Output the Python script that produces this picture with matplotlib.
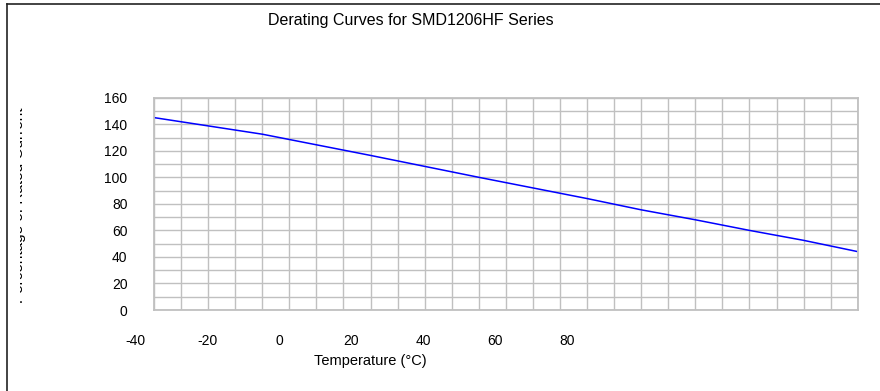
import matplotlib
matplotlib.use("Agg")
import matplotlib.pyplot as plt
from matplotlib.transforms import Bbox, TransformedBbox
from matplotlib.lines import Line2D

# ---- data ----
temperature = [-40, -20, 0, 20, 30, 40, 50, 60, 70, 80, 90]
percentage = [145, 132.5, 116.5, 100, 92, 84, 75.5, 68, 60, 52.5, 44]
x_tick_values = [-40, -20, 0, 20, 40, 60, 80]
y_tick_values = [0, 20, 40, 60, 80, 100, 120, 140, 160]
title = "Derating Curves for SMD1206HF Series"
xlabel = "Temperature (°C)"
ylabel = "Percentage of Rated Current"

plt.rcParams['font.family'] = ['Liberation Sans', 'DejaVu Sans']

W, H = 880, 391
fig = plt.figure(figsize=(W / 100, H / 100), dpi=100)
fig.patch.set_facecolor('white')

def fx(px):
    return px / W

def fy(py):
    return (H - py) / H

left, right, top, bottom = 154, 857.7, 97.7, 310
ax = fig.add_axes([fx(left), fy(bottom), fx(right) - fx(left), fy(top) - fy(bottom)])
ax.set_xlim(-40, 90)
ax.set_ylim(0, 160)
grid_c = '#c0c0c0'
ax.set_xticks(range(-40, 91, 5))
ax.set_xticklabels([])
ax.set_yticks(y_tick_values)
ax.set_yticks(range(0, 161, 10), minor=True)
ax.set_yticklabels([str(v) for v in y_tick_values], fontsize=10)
ax.tick_params(axis='both', which='both', length=0)
ax.tick_params(axis='y', pad=19)
ax.grid(True, which='both', color=grid_c, linewidth=1.0)
ax.set_axisbelow(True)
for s in ax.spines.values():
    s.set_color(grid_c)
    s.set_linewidth(1.3)

ax.plot(temperature, percentage, color='#0000ff', linewidth=1.1, solid_capstyle='butt')

# x tick labels (as rendered in the reference, compressed to the left)
ax_lab = fig.add_axes([fx(135), fy(bottom), fx(567) - fx(135), 0.001])
ax_lab.set_xlim(-40, 80)
ax_lab.set_xticks(x_tick_values)
ax_lab.set_xticklabels([str(v) for v in x_tick_values], fontsize=10)
ax_lab.set_yticks([])
ax_lab.tick_params(axis='x', length=0, pad=17)
for s in ax_lab.spines.values():
    s.set_visible(False)
ax_lab.patch.set_visible(False)

fig.text(fx(411), fy(20), title, fontsize=11.5, ha='center', va='center')
fig.text(fx(370), fy(361), xlabel, fontsize=10.5, ha='center', va='center')

yl = fig.text(fx(19.5), fy(205), ylabel, fontsize=11, rotation=90, ha='center', va='center')
yl.set_clip_box(TransformedBbox(Bbox([[fx(20), 0], [1, 1]]), fig.transFigure))
yl.set_clip_on(True)

# page frame (top and left edges)
fig.add_artist(Line2D([fx(7), 1], [fy(4), fy(4)], transform=fig.transFigure, color='#222222', linewidth=1.2))
fig.add_artist(Line2D([fx(7), fx(7)], [fy(4), 0], transform=fig.transFigure, color='#222222', linewidth=1.2))

fig.savefig('out.png', dpi=100)
